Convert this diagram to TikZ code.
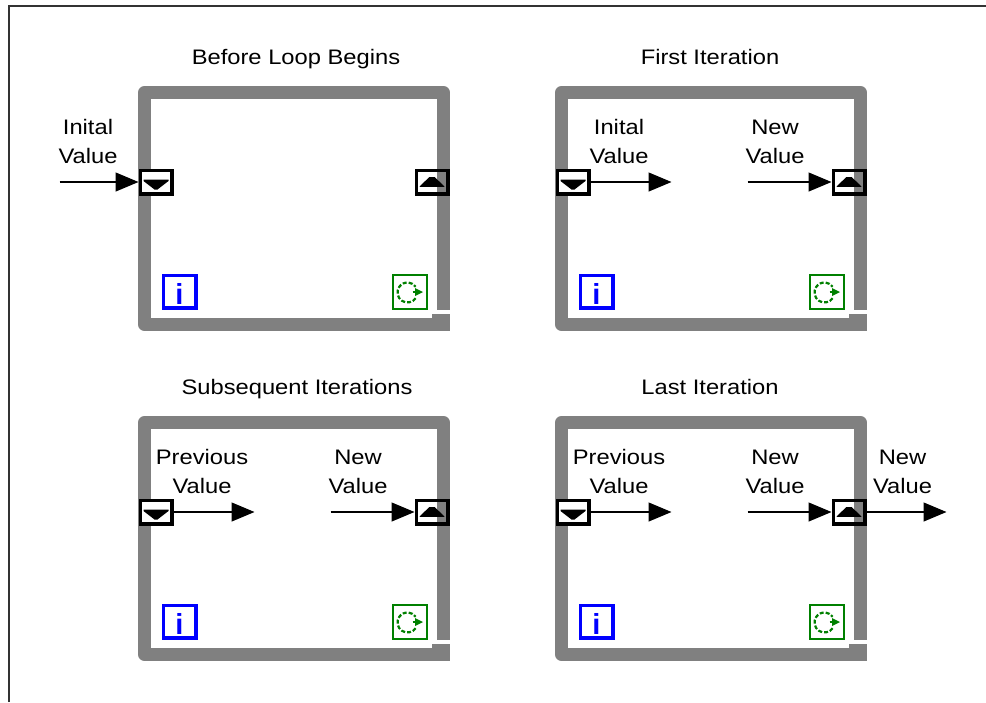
\documentclass[tikz,border=0pt]{standalone}
\usepackage{fontspec}
\setmainfont{Liberation Sans}[FakeStretch=1.13]
\newfontfamily\iconfont{Liberation Sans}
\usetikzlibrary{arrows.meta}
\definecolor{framegray}{RGB}{128,128,128}
\definecolor{iblue}{RGB}{0,0,255}
\definecolor{lgreen}{RGB}{0,128,0}
\definecolor{edgegray}{RGB}{51,51,51}
\tikzset{
  lbl/.style={font=\fontsize{21}{28.5}\selectfont, align=center, inner sep=0pt, anchor=south},
  ttl/.style={font=\fontsize{21}{28.5}\selectfont, inner sep=0pt, anchor=base},
  wire/.style={line width=1.3pt, -{Triangle[length=23pt,width=19pt]}},
  srbox/.style={draw=black, fill=white, line width=3.5pt, minimum width=31.5pt, minimum height=23.5pt, inner sep=0pt},
  loopframe/.style={draw=framegray, line width=13pt, line join=round},
  iterbox/.style={draw=iblue, text=iblue, line width=3.3pt, minimum size=32.7pt, inner sep=0pt,
    text height=26pt, text depth=0pt, font=\iconfont\bfseries\fontsize{29}{29}\selectfont},
  condbox/.style={draw=lgreen, line width=2pt, minimum size=34pt, inner sep=0pt},
}
\newcommand{\lvpanel}[3]{%
\begin{scope}[shift={(#2,#3)}]
  \draw[loopframe] (305.5,223.5) -- (305.5,6.5) -- (6.5,6.5) -- (6.5,238.5) -- (312,238.5);
  \fill[framegray] (294,227.5) rectangle (312,233);
  \node[srbox] (#1L) at (18,96) {};
  \fill (5.5,93.5) -- (30.5,93.5) -- (30.5,95) -- (19.5,103.5) -- (16.5,103.5) -- (5.5,95) -- cycle;
  \fill (281.5,100.8) -- (306.5,100.8) -- (304.5,98.5) -- (296.5,91) -- (291.5,91) -- (283.5,98.5) -- cycle;
  \node[srbox, fill=none] (#1R) at (294,96) {};
  \node[iterbox] (#1i) at (41.5,205.5) {i};
  \node[condbox] (#1c) at (271.5,205.5) {};
  \draw[lgreen, line width=2.2pt, dash pattern=on 4pt off 2pt]
    (269.5,206.5) ++(35:10) arc[start angle=35, end angle=325, radius=10];
  \draw[lgreen, line width=2.2pt] (274.5,206) -- (278,206);
  \fill[lgreen] (277,202) -- (277,210) -- (285,206) -- cycle;
\end{scope}}
\begin{document}
\begin{tikzpicture}[x=1pt,y=-1pt]
\useasboundingbox (0,0) rectangle (986,702);
\draw[edgegray, line width=2pt] (9,702) -- (9,6) -- (986,6);

\lvpanel{TL}{138}{86}
\lvpanel{TR}{555}{86}
\lvpanel{BL}{138}{416}
\lvpanel{BR}{555}{416}

\node[ttl] (t1) at (296,64) {Before Loop Begins};
\node[ttl] (t2) at (710,64) {First Iteration};
\node[ttl] (t3) at (297,394) {Subsequent Iterations};
\node[ttl] (t4) at (710,394) {Last Iteration};

% top-left
\node[lbl] (l1) at (88,163.5) {Inital\\Value};
\coordinate (tlin) at (59.5,182);
\draw[wire] (tlin) -- (TLL.west);

% top-right
\node[lbl] (l2) at (619,163.5) {Inital\\Value};
\node[lbl] (l3) at (775,163.5) {New\\Value};
\coordinate (tra) at (671.5,182);
\coordinate (trb) at (747.5,182);
\draw[wire] (TRL.east) -- (tra);
\draw[wire] (trb) -- (TRR.west);

% bottom-left
\node[lbl] (l4) at (202,493.5) {Previous\\Value};
\node[lbl] (l5) at (358,493.5) {New\\Value};
\coordinate (bla) at (254.5,512);
\coordinate (blb) at (330.5,512);
\draw[wire] (BLL.east) -- (bla);
\draw[wire] (blb) -- (BLR.west);

% bottom-right
\node[lbl] (l6) at (619,493.5) {Previous\\Value};
\node[lbl] (l7) at (775,493.5) {New\\Value};
\node[lbl] (l8) at (902.5,493.5) {New\\Value};
\coordinate (bra) at (671.5,512);
\coordinate (brb) at (747.5,512);
\coordinate (brc) at (946.5,512);
\draw[wire] (BRL.east) -- (bra);
\draw[wire] (brb) -- (BRR.west);
\draw[wire] (BRR.east) -- (brc);
\end{tikzpicture}
\end{document}
